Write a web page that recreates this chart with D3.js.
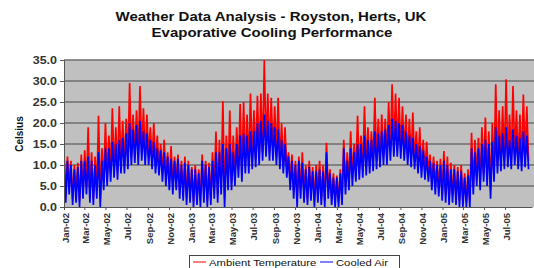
<!DOCTYPE html>
<html>
<head>
<meta charset="utf-8">
<script src="https://cdn.jsdelivr.net/npm/d3@7"></script>
<style>
  body { margin: 0; background: #fff; }
  text { font-family: Arial, "Liberation Sans", sans-serif; }
</style>
</head>
<body>
<svg id="chart"></svg>
<script>
// 10-day periods starting 1 Jan 2002, high / low reading in each period
var periodStart = "2002-01-01";
var periodDays = 10;

var ambientHigh = [
  12.5, 12, 11, 10, 10.5, 12.5, 13.5, 19, 13, 12,
  21.7, 14, 20, 17, 23.5, 19, 24, 20.5, 21, 29.5,
  22, 23, 28.8, 23.5, 22, 19, 20, 17, 15, 16,
  13, 14.5, 12, 12.5, 11, 12, 11, 9.5, 10, 9,
  12.5, 11, 10.5, 13, 18, 16, 25.2, 17, 23, 17,
  19, 24.5, 25, 22, 27, 23, 26.5, 27, 35, 27,
  26, 24, 26, 20, 19, 13, 12.5, 11, 12, 13,
  10, 11, 9.5, 10, 11, 10, 15.3, 9, 8, 7.5,
  9, 16, 13, 18, 15, 21.7, 17, 24, 19, 18,
  26, 21, 22, 21, 25, 29.2, 27, 26, 24, 22,
  21, 22.5, 18, 19, 16, 15.5, 12.5, 12, 11, 11.5,
  13.3, 12, 10.5, 10, 9.5, 10, 8, 9, 17.7, 16,
  16.5, 19, 21.3, 18, 20, 29.2, 23, 24, 30.4, 22,
  28.8, 23, 22, 26.8, 24
];
var ambientLow = [
  3, 5, 2, 3, 1.5, 4, 5, 3, 2, 4,
  2, 6, 7, 8, 9, 8.5, 10, 10, 11, 12,
  12.5, 12, 13, 12, 12, 11, 10, 9.5, 8, 7,
  6, 5, 6, 4, 3.5, 2, 3, 1.5, 2, 1.5,
  3, 1.5, 2, 4, 3, 5, 2, 6, 6, 7,
  9, 8, 10, 10, 11, 11.5, 12, 13, 14, 13,
  13, 12, 11, 10, 9, 6, 4, 2, 4, 3,
  2, 3.5, 1.5, 3, 2, 1.5, 4, 2, 1.5, 1,
  2, 5, 6, 7, 8, 8.5, 9, 9.5, 10, 10.5,
  11, 11.5, 12, 12, 13, 14, 14, 13.5, 13, 12,
  11.5, 11, 10, 9, 8.5, 8, 6, 5, 4.5, 3,
  3, 2, 3, 2, 1.5, 1, 1, 1.5, 5, 7,
  6, 8, 7, 4, 8, 10, 10.5, 11, 11.5, 11,
  12, 11, 10.5, 11.5, 11
];
var cooledHigh = [
  12, 11, 10, 9, 9.5, 11, 11, 12, 11, 10,
  13, 11, 14, 14, 15.5, 15, 16, 16.5, 17.5, 20,
  18.5, 19.5, 20.5, 18, 17.5, 16, 15.5, 14, 13.5, 13,
  12, 11.5, 11, 11.5, 10, 10.5, 10, 9, 9, 8,
  11, 10, 9.5, 11, 13, 13, 15, 14, 15, 13,
  15, 17, 17.5, 17, 18, 18, 20, 20.5, 22, 20.5,
  20, 19, 18.5, 16, 15, 12, 11, 10, 11, 10.5,
  9, 9.5, 8.5, 8.5, 9, 8.5, 13, 8, 7, 7,
  8, 14, 11, 14, 13, 15, 15, 17, 16, 16,
  18, 17.5, 18, 18.5, 19.5, 21, 20.5, 20, 19.5, 18,
  17, 16.5, 15, 14.5, 13.5, 12, 11, 10.5, 10, 10,
  11, 10, 9, 9, 8.5, 8.5, 7, 7.5, 14, 13,
  14, 15, 16, 15, 15.5, 19, 17, 17.5, 19, 16,
  18.5, 17, 16.5, 18, 17
];
var cooledLow = [
  1, 3, 0.5, 1, 0, 2, 3, 1, 0.5, 2,
  0, 4, 5, 6, 7, 6.5, 8, 8, 9, 10,
  10.5, 10, 11, 10, 10, 9, 8, 7.5, 6, 5,
  4, 3, 4, 2, 1.5, 0.5, 1, 0, 0.5, 0,
  1, 0, 0.5, 2, 1, 3, 0, 4, 4, 5,
  7, 6, 8, 8, 9, 9.5, 10, 11, 12, 11,
  11, 10, 9, 8, 7, 4, 2, 0, 2, 1,
  0.5, 1.5, 0, 1, 0.5, 0, 2, 0.5, 0, 0,
  0.5, 3, 4, 5, 6, 6.5, 7, 7.5, 8, 8.5,
  9, 9.5, 10, 10, 11, 12, 12, 11.5, 11, 10,
  9.5, 9, 8, 7, 6.5, 6, 4, 3, 2.5, 1.5,
  1, 0.5, 1, 0.5, 0, 0, 0, 0, 3, 5,
  4, 6, 5, 2, 6, 8, 8.5, 9, 9.5, 9,
  10, 9, 8.5, 9.5, 9
];

var yTicks = [0, 5, 10, 15, 20, 25, 30, 35];
var xTickLabels = ["Jan-02", "Mar-02", "May-02", "Jul-02", "Sep-02", "Nov-02",
  "Jan-03", "Mar-03", "May-03", "Jul-03", "Sep-03", "Nov-03",
  "Jan-04", "Mar-04", "May-04", "Jul-04", "Sep-04", "Nov-04",
  "Jan-05", "Mar-05", "May-05", "Jul-05"];
var seriesNames = ["Ambient Temperature", "Cooled Air"];
var seriesColors = ["#ff0000", "#0000ff"];

var w = 534, h = 268;
var plotLeft = 64, plotRight = 532, plotTop = 60, plotBottom = 207;

var svg = d3.select("#chart")
  .attr("width", w)
  .attr("height", h);

var start = d3.timeParse("%Y-%m-%d")(periodStart);
var parseTick = d3.timeParse("%b-%y");

var x = d3.scaleTime()
  .domain([start, d3.timeDay.offset(start, 1355)])
  .range([plotLeft, plotRight]);
var y = d3.scaleLinear()
  .domain([0, 35])
  .range([plotBottom, plotTop]);

// the source picture is stretched wide, so widen text to match
function stretch(sel, k) {
  sel.each(function() {
    var len = this.getComputedTextLength();
    d3.select(this)
      .attr("textLength", len * k)
      .attr("lengthAdjust", "spacingAndGlyphs");
  });
}

// plot background + gridlines
svg.append("rect")
  .attr("x", plotLeft).attr("y", plotTop)
  .attr("width", w - plotLeft).attr("height", plotBottom - plotTop)
  .attr("fill", "#c0c0c0");

svg.append("g")
  .selectAll("line")
  .data(yTicks.filter(function(d) { return d > 0; }))
  .join("line")
  .attr("x1", plotLeft).attr("x2", w)
  .attr("y1", function(d) { return y(d); })
  .attr("y2", function(d) { return y(d); })
  .attr("stroke", "#6e6e6e")
  .attr("stroke-width", 1.5);

svg.append("clipPath").attr("id", "plotclip")
  .append("rect")
  .attr("x", plotLeft).attr("y", plotTop - 2)
  .attr("width", w - plotLeft).attr("height", plotBottom - plotTop + 2);

// zigzag between high and low of each period
function zigzag(hi, lo) {
  var pts = [];
  hi.forEach(function(v, i) {
    var t = d3.timeDay.offset(start, i * periodDays);
    pts.push([t, v]);
    pts.push([d3.timeDay.offset(t, periodDays / 2), lo[i]]);
  });
  return pts;
}

var line = d3.line()
  .x(function(d) { return x(d[0]); })
  .y(function(d) { return y(d[1]); });

var plot = svg.append("g").attr("clip-path", "url(#plotclip)");

plot.append("path")
  .datum(zigzag(ambientHigh, ambientLow))
  .attr("d", line)
  .attr("fill", "none")
  .attr("stroke", seriesColors[0])
  .attr("stroke-width", 1.7)
  .attr("stroke-linejoin", "miter");

plot.append("path")
  .datum(zigzag(cooledHigh, cooledLow))
  .attr("d", line)
  .attr("fill", "none")
  .attr("stroke", seriesColors[1])
  .attr("stroke-width", 1.7)
  .attr("stroke-linejoin", "miter");

// axes
var yAxis = svg.append("g")
  .attr("transform", "translate(" + plotLeft + ",0)")
  .call(d3.axisLeft(y).tickValues(yTicks).tickFormat(d3.format(".1f")).tickSize(4).tickPadding(3));
yAxis.select(".domain").attr("stroke", "#555");
yAxis.selectAll(".tick line").attr("stroke", "#555");
yAxis.selectAll("text")
  .attr("font-size", 10)
  .attr("font-weight", "bold")
  .attr("fill", "#333")
  .call(stretch, 1.25);

var xAxis = svg.append("g")
  .attr("transform", "translate(0," + plotBottom + ")")
  .call(d3.axisBottom(x)
    .tickValues(xTickLabels.map(parseTick))
    .tickFormat(d3.timeFormat("%b-%y"))
    .tickSize(3)
    .tickSizeOuter(0));
xAxis.select(".domain").attr("stroke", "#555");
xAxis.selectAll(".tick line").attr("stroke", "#555");
xAxis.selectAll("text")
  .attr("transform", "rotate(-90)")
  .attr("text-anchor", "end")
  .attr("x", -6)
  .attr("y", 1)
  .attr("dy", "0.35em")
  .attr("font-size", 9.5)
  .attr("font-weight", "bold")
  .attr("fill", "#333");

// titles
svg.append("text")
  .attr("x", 271).attr("y", 21)
  .attr("text-anchor", "middle")
  .attr("font-size", 12)
  .attr("font-weight", "bold")
  .attr("fill", "#111")
  .text("Weather Data Analysis - Royston, Herts, UK")
  .call(stretch, 1.25);
svg.append("text")
  .attr("x", 272).attr("y", 37)
  .attr("text-anchor", "middle")
  .attr("font-size", 12)
  .attr("font-weight", "bold")
  .attr("fill", "#111")
  .text("Evaporative Cooling Performance")
  .call(stretch, 1.25);

svg.append("text")
  .attr("transform", "translate(23,134) rotate(-90)")
  .attr("text-anchor", "middle")
  .attr("font-size", 10)
  .attr("font-weight", "bold")
  .attr("fill", "#111")
  .text("Celsius");

// legend
var legend = svg.append("g");
legend.append("rect")
  .attr("x", 189.5).attr("y", 255.5)
  .attr("width", 210).attr("height", 13)
  .attr("fill", "#fff")
  .attr("stroke", "#444");
var legendX = [193, 320];
seriesNames.forEach(function(name, i) {
  legend.append("line")
    .attr("x1", legendX[i]).attr("x2", legendX[i] + 13)
    .attr("y1", 262).attr("y2", 262)
    .attr("stroke", seriesColors[i]);
  legend.append("text")
    .attr("x", legendX[i] + 16).attr("y", 266)
    .attr("font-size", 9)
    .attr("fill", "#111")
    .text(name)
    .call(stretch, 1.25);
});
</script>
</body>
</html>
